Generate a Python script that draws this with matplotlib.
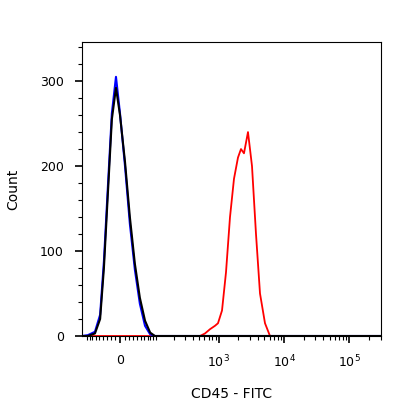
import numpy as np
import matplotlib
matplotlib.use("Agg")
import matplotlib.pyplot as plt

W = 62.0
def fwd(x): return np.arcsinh(np.asarray(x, float) / W)
def inv(u): return W * np.sinh(np.asarray(u, float))

neg_x = [-110, -86, -62, -47, -37, -27, -18, -8.8, 0, 11, 22, 34, 47, 62, 79, 97, 300000]
black_y = [0, 0, 3, 20, 80, 170, 255, 292, 260, 205, 140, 85, 45, 18, 4, 0, 0]
blue_y = [0, 1, 5, 25, 88, 178, 262, 305, 262, 200, 132, 78, 38, 12, 2, 0, 0]

red_x = [-110, 517, 617, 736, 878, 976, 1125, 1295, 1491, 1716, 1975, 2196, 2440, 2810,
         3236, 3725, 4290, 5115, 6100, 300000]
red_y = [0, 0, 3, 8, 12, 15, 30, 75, 140, 185, 210, 220, 215, 240, 200, 120, 50, 15, 0, 0]

fig = plt.figure(figsize=(4.16, 4.16), dpi=100)
ax = fig.add_axes([82/416, 80/416, 299/416, 294/416])
ax.set_xscale('function', functions=(fwd, inv))
ax.plot(red_x, red_y, color='red', lw=1.3)
ax.plot(neg_x, blue_y, color='blue', lw=1.5)
ax.plot(neg_x, black_y, color='black', lw=1.5)
ax.set_xlim(-110, 304000)
ax.set_ylim(0, 346)

ax.set_xticks([0, 1e3, 1e4, 1e5])
ax.set_xticklabels(['0', '$10^3$', '$10^4$', '$10^5$'])
minor = [v * s for v in [10, 20, 30, 40, 50, 60, 70, 80, 90] for s in (1, -1)]
minor += [m * 10**d for d in (2, 3, 4, 5) for m in range(1, 10) if not (m == 1 and d > 2)]
minor = [v for v in minor if -110 < v < 304000]
ax.set_xticks(minor, minor=True)
ax.set_yticks([0, 100, 200, 300])
ax.set_yticks(np.arange(0, 346, 20), minor=True)
ax.tick_params(axis='both', which='major', length=5, width=1.2, labelsize=9, pad=8)
ax.tick_params(axis='both', which='minor', length=3, width=0.8)
ax.set_xlabel('CD45 - FITC', fontsize=10, labelpad=12)
ax.set_ylabel('Count', fontsize=10, labelpad=14)
fig.savefig('out.png', dpi=100)
